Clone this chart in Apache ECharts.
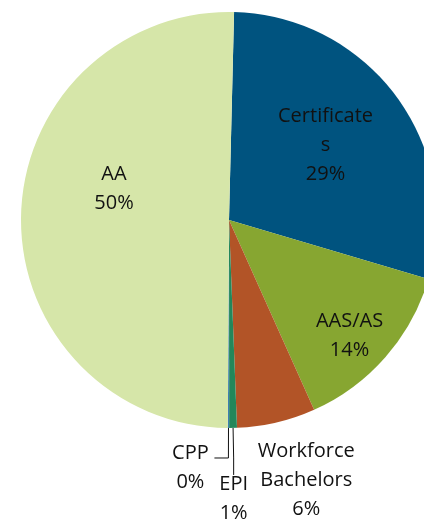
<!DOCTYPE html>
<html>
<head>
<meta charset="utf-8">
<script src="https://cdn.jsdelivr.net/npm/echarts@6/dist/echarts.min.js"></script>
<style>
  html, body { margin: 0; padding: 0; background: #fff; }
  #chart { width: 424px; height: 523px; }
</style>
</head>
<body>
<div id="chart"></div>
<script>
const categories = ['Certificates', 'AAS/AS', 'Workforce Bachelors', 'EPI', 'CPP', 'AA']
const labelNames = ['Certificate\ns', 'AAS/AS', 'Workforce\nBachelors', 'EPI', 'CPP', 'AA']
const shares = [29.2, 13.7, 6.1, 0.6, 0.1, 50.3]

const colors = ['#00537f', '#87a631', '#b25427', '#23875a', '#3f7fb0', '#d6e6a9']
const outside = [false, false, true, true, true, false]
// small nudges so labels sit where Excel put them
const labelShift = [[10, -12], [40, 45], [18, 29], [-5, 41], [-33, 10], [-8, -30]]
// extra leg added to the leader line end (EPI drops further, CPP bends left)
const lineTail = { 3: [0, 17], 4: [-14, 0] }

const chart = echarts.init(document.getElementById('chart'))

const option = {
  animation: false,
  series: [
    {
      type: 'pie',
      center: [229, 220],
      radius: 208,
      startAngle: 88.6,
      clockwise: true,
      percentPrecision: 0,
      avoidLabelOverlap: false,
      data: categories.map((name, i) => ({
        name,
        value: shares[i],
        itemStyle: { color: colors[i] },
        label: {
          position: outside[i] ? 'outside' : 'inside'
        },
        labelLine: {
          show: outside[i] && name !== 'Workforce Bachelors'
        }
      })),
      label: {
        formatter: (p) => labelNames[p.dataIndex] + '\n' + p.percent + '%',
        fontFamily: 'Open Sans',
        fontSize: 20,
        lineHeight: 29,
        color: '#111',
        align: 'center'
      },
      labelLine: {
        length: 30,
        length2: 0,
        lineStyle: { color: '#111', width: 1 }
      },
      labelLayout: (p) => {
        const s = labelShift[p.dataIndex]
        const out = { dx: s[0], dy: s[1], align: 'center' }
        const tail = lineTail[p.dataIndex]
        if (tail && p.labelLinePoints) {
          const pts = p.labelLinePoints.map((pt) => [pt[0], pt[1]])
          const last = pts[pts.length - 1]
          pts.push([last[0] + tail[0], last[1] + tail[1]])
          out.labelLinePoints = pts
        }
        return out
      },
      itemStyle: { borderWidth: 0 }
    }
  ]
}

chart.setOption(option)
</script>
</body>
</html>
